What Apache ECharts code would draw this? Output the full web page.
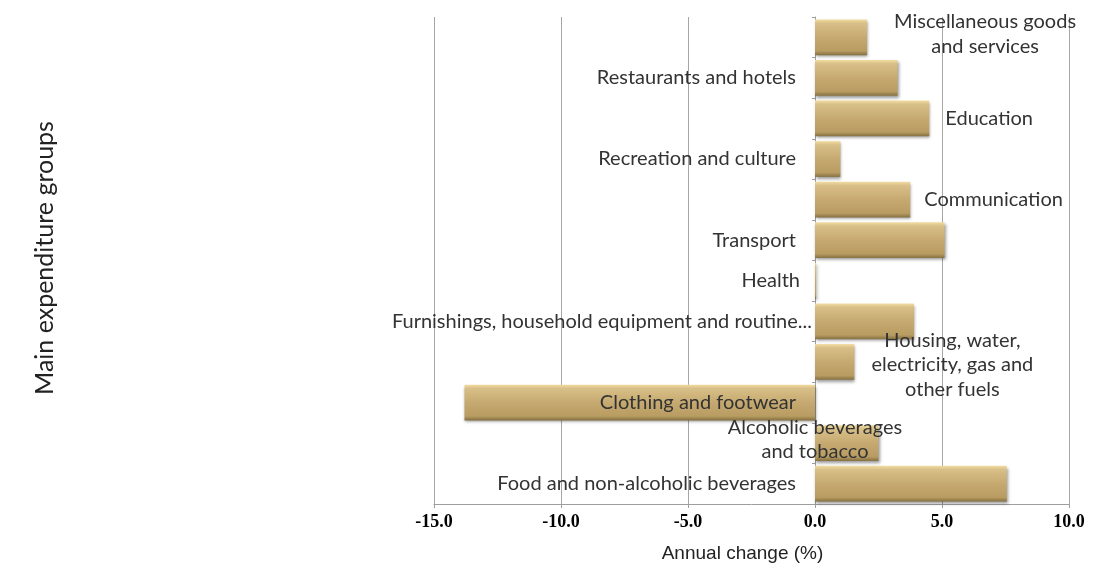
<!DOCTYPE html>
<html>
<head>
<meta charset="utf-8">
<script src="https://cdn.jsdelivr.net/npm/echarts@6/dist/echarts.min.js"></script>
<style>
  html, body { margin: 0; padding: 0; background: #fff; }
  #chart { width: 1099px; height: 569px; }
</style>
</head>
<body>
<div id="chart"></div>
<script>
// categories, bottom to top
var categories = [
  'Food and non-alcoholic beverages',
  'Alcoholic beverages and tobacco',
  'Clothing and footwear',
  'Housing, water, electricity, gas and other fuels',
  'Furnishings, household equipment and routine maintenance',
  'Health',
  'Transport',
  'Communication',
  'Recreation and culture',
  'Education',
  'Restaurants and hotels',
  'Miscellaneous goods and services'
]
// text as it is written next to each bar
var barLabels = [
  'Food and non-alcoholic beverages',
  'Alcoholic beverages\nand tobacco',
  'Clothing and footwear',
  'Housing, water,\nelectricity, gas and\nother fuels',
  'Furnishings, household equipment and routine...',
  'Health',
  'Transport',
  'Communication',
  'Recreation and culture',
  'Education',
  'Restaurants and hotels',
  'Miscellaneous goods\nand services'
]
// annual change (%)
var annualChange = [7.55, 2.5, -13.8, 1.55, 3.9, 0.05, 5.1, 3.75, 1.0, 4.5, 3.25, 2.05]
var xTicks = { min: -15, max: 10, step: 5 }

// where each label sits (style only)
var labelPlace = [
  { position: 'left', distance: 19 },
  { position: 'insideLeft', distance: 0, align: 'center', offset: [0, -4], lineHeight: 24 },
  { position: 'insideRight', distance: 19 },
  { position: 'right', distance: 98, align: 'center', offset: [0, 3], lineHeight: 24.5 },
  { position: 'left', distance: 3 },
  { position: 'left', distance: 15 },
  { position: 'left', distance: 19 },
  { position: 'right', distance: 14 },
  { position: 'left', distance: 19 },
  { position: 'right', distance: 16 },
  { position: 'left', distance: 19 },
  { position: 'right', distance: 118, align: 'center', offset: [0, -3], lineHeight: 25 }
]

var barFill = new echarts.graphic.LinearGradient(0, 0, 0, 1, [
  { offset: 0, color: '#F2DDA2' },
  { offset: 0.1, color: '#D9C088' },
  { offset: 0.5, color: '#C5A970' },
  { offset: 0.88, color: '#B89C62' },
  { offset: 1, color: '#857040' }
])

var seriesData = annualChange.map(function (v, i) {
  var p = labelPlace[i]
  return {
    value: v,
    label: Object.assign({ formatter: barLabels[i] }, p)
  }
})

var chart = echarts.init(document.getElementById('chart'))
chart.setOption({
  animation: false,
  grid: { left: 434, right: 30, top: 17, bottom: 65, containLabel: false, outerBoundsMode: 'none' },
  graphic: [{
    type: 'text',
    x: 45,
    y: 258,
    rotation: Math.PI / 2,
    style: {
      text: 'Main expenditure groups',
      fontFamily: 'Lato',
      fontSize: 25,
      fill: '#222',
      align: 'center',
      verticalAlign: 'middle'
    }
  }],
  xAxis: {
    type: 'value',
    min: xTicks.min,
    max: xTicks.max,
    interval: xTicks.step,
    name: 'Annual change (%)',
    nameLocation: 'middle',
    nameGap: 40,
    nameTextStyle: { fontFamily: 'Liberation Sans', fontSize: 19, color: '#222', padding: [0, 18, 0, 0] },
    axisLine: { show: true, lineStyle: { color: '#9E9E9E' } },
    axisTick: { show: true, length: 4, lineStyle: { color: '#9E9E9E' } },
    axisLabel: {
      margin: 9,
      fontFamily: 'Liberation Serif',
      fontWeight: 'bold',
      fontSize: 18,
      color: '#000',
      formatter: function (v) { return v.toFixed(1) }
    },
    splitLine: { show: true, lineStyle: { color: '#A6A6A6' } }
  },
  yAxis: {
    type: 'category',
    data: categories,
    axisLine: { show: true, onZero: true, lineStyle: { color: '#9E9E9E' } },
    axisTick: { show: true, length: 3, lineStyle: { color: '#9E9E9E' } },
    axisLabel: { show: false },
    splitLine: { show: false }
  },
  series: [{
    type: 'bar',
    data: seriesData,
    barCategoryGap: '12%',
    itemStyle: {
      color: barFill,
      shadowBlur: 3,
      shadowOffsetY: 2,
      shadowOffsetX: 1,
      shadowColor: 'rgba(0,0,0,0.4)'
    },
    label: {
      show: true,
      fontFamily: 'Lato',
      fontSize: 20,
      color: '#333'
    }
  }]
})
</script>
</body>
</html>
